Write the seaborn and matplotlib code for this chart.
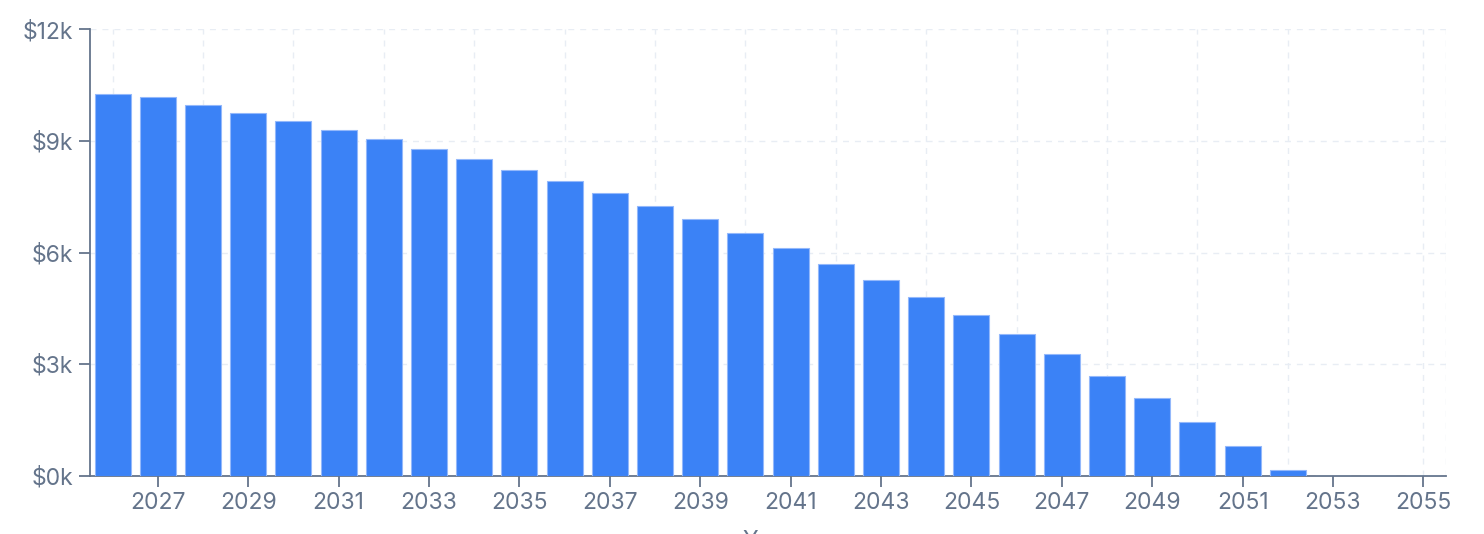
import matplotlib
matplotlib.use("Agg")
import matplotlib.pyplot as plt
import seaborn as sns
import pandas as pd
from matplotlib.ticker import FuncFormatter

years = list(range(2026, 2056))
values = [10250, 10170, 9965, 9750, 9530, 9290, 9040, 8780, 8505, 8220,
          7910, 7590, 7240, 6890, 6520, 6110, 5690, 5260, 4800, 4310,
          3800, 3260, 2680, 2080, 1450, 790, 145, 0, 0, 0]
tick_years = list(range(2027, 2056, 2))
grid_years = list(range(2026, 2053, 2)) + [2055]
y_ticks = [0, 3000, 6000, 9000, 12000]
x_label = "Year"

BAR = "#3b82f6"
TEXT = "#64748b"
GRID = "#e8edf4"

sns.set_theme(style="white")
plt.rcParams["font.family"] = ["Inter", "DejaVu Sans"]

df = pd.DataFrame({"year": [str(y) for y in years], "value": values})

fig = plt.figure(figsize=(14.84, 5.34), dpi=100)
ax = fig.add_axes([90 / 1484, 1 - 475.7 / 534, (1446 - 90) / 1484, (475.7 - 29.3) / 534])

sns.barplot(data=df, x="year", y="value", color=BAR, width=0.8, saturation=1,
            edgecolor="#93b8fb", linewidth=0.8, ax=ax, zorder=3)

cats = [str(y) for y in years]
# grid
for gy in grid_years:
    ax.axvline(cats.index(str(gy)), color=GRID, lw=1, ls=(0, (4.3, 4.3)), zorder=1)
ax.axvline(len(years) - 0.5, color=GRID, lw=1, ls=(0, (4.3, 4.3)), zorder=1)
for t in y_ticks[1:]:
    ax.axhline(t, color=GRID, lw=1, ls=(0, (4.3, 4.3)), zorder=1)

ax.set_xlim(-0.5, len(years) - 0.5)
ax.set_ylim(0, 12000)
ax.set_yticks(y_ticks)
ax.yaxis.set_major_formatter(FuncFormatter(lambda v, p: f"${v/1000:.0f}k"))
ax.set_xticks([cats.index(str(y)) for y in tick_years])
ax.set_xticklabels([str(y) for y in tick_years])

for s in ["top", "right"]:
    ax.spines[s].set_visible(False)
for s in ["left", "bottom"]:
    ax.spines[s].set_color(TEXT)
    ax.spines[s].set_linewidth(1.3)

ax.tick_params(axis="both", colors=TEXT, labelsize=16.5, length=8, width=1.3,
               direction="out", pad=4)
ax.tick_params(axis="x", bottom=True)
ax.tick_params(axis="y", left=True)
ax.set_ylabel("")
ax.set_xlabel(x_label, fontsize=16.5, color=TEXT, labelpad=11)
ax.grid(False)

fig.savefig("out.png", dpi=100)
